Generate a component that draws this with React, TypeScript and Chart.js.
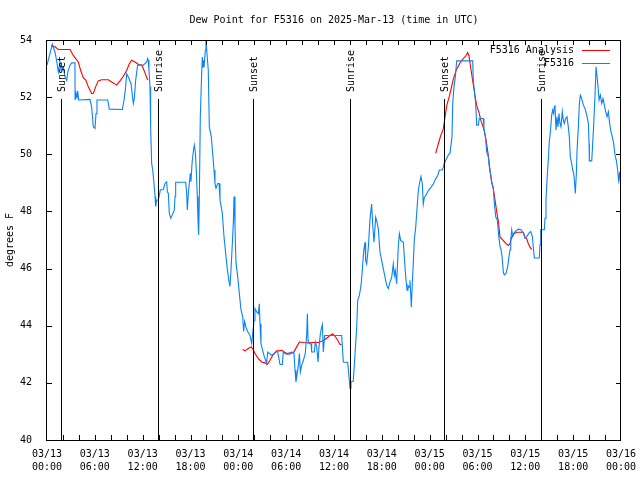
import React, { useEffect, useRef } from "react";
import { Chart, registerables } from "chart.js";

Chart.register(...registerables);

const TITLE = "Dew Point for F5316 on 2025-Mar-13 (time in UTC)";
const Y_LABEL = "degrees F";
const LEGEND_LABELS = ["F5316 Analysis", "F5316"];
const COLORS = ["#ff0000", "#0a82f8"];

// x axis: hours since 2025-03-13 00:00 UTC
const TICK_HOURS = [0, 6, 12, 18, 24, 30, 36, 42, 48, 54, 60, 66, 72];
const TICK_DATES = ["03/13", "03/13", "03/13", "03/13", "03/14", "03/14", "03/14", "03/14", "03/15", "03/15", "03/15", "03/15", "03/16"];
const TICK_TIMES = ["00:00", "06:00", "12:00", "18:00", "00:00", "06:00", "12:00", "18:00", "00:00", "06:00", "12:00", "18:00", "00:00"];

const SUN_HOURS = [1.8, 13.97, 25.8, 38.05, 49.85, 62.0];
const SUN_LABELS = ["Sunset", "Sunrise", "Sunset", "Sunrise", "Sunset", "Sunrise"];

const obsHours = [
  0, 0.67, 1.0, 1.2, 1.42, 1.63, 1.76, 2.05, 2.26, 2.47, 2.6, 2.89, 3.1, 3.51, 3.52, 3.64, 3.76, 3.85, 3.97, 5.39,
  5.6, 5.81, 6.02, 6.15, 6.27, 7.61, 7.82, 9.45, 9.66, 9.82, 10.0, 10.29, 10.54, 10.7, 10.83, 10.95, 11.12, 11.37, 12.08, 12.5,
  12.63, 12.7, 12.79, 12.92, 13.0, 13.13, 13.26, 13.42, 13.55, 13.63, 13.76, 13.96, 14.14, 14.21, 14.59, 14.8, 15.01, 15.1, 15.22, 15.34,
  15.52, 15.72, 15.97, 16.06, 16.14, 17.4, 17.52, 17.6, 17.73, 17.85, 17.98, 18.06, 18.19, 18.35, 18.48, 18.6, 18.73, 18.85, 18.94, 19.02,
  19.1, 19.23, 19.4, 19.48, 19.57, 19.65, 19.73, 19.86, 19.94, 20.07, 20.23, 20.36, 20.61, 20.78, 20.95, 21.07, 21.2, 21.41, 21.58, 21.7,
  21.99, 22.2, 22.41, 22.62, 22.83, 22.95, 23.08, 23.25, 23.37, 23.46, 23.58, 23.71, 23.92, 24.12, 24.33, 24.54, 24.67, 24.79, 24.95, 25.2,
  25.46, 25.68, 25.8, 25.97, 26.09, 26.3, 26.51, 26.63, 26.72, 26.84, 27.05, 27.26, 27.43, 27.55, 27.68, 27.89, 28.1, 28.47, 28.68, 28.93,
  29.1, 29.23, 29.52, 29.64, 29.85, 30.06, 30.48, 30.69, 30.98, 31.11, 31.23, 31.36, 31.53, 31.66, 31.78, 31.95, 32.16, 32.4, 32.58, 32.66,
  32.74, 32.91, 33.12, 33.2, 33.53, 33.66, 33.83, 34.0, 34.12, 34.29, 34.41, 34.54, 34.66, 34.83, 36.96, 37.17, 37.72, 37.88, 38.01, 38.13,
  38.42, 38.64, 38.85, 38.97, 39.18, 39.39, 39.55, 39.73, 39.89, 39.97, 40.1, 40.31, 40.52, 40.72, 40.85, 41.02, 41.23, 41.35, 41.56, 41.77,
  41.98, 42.19, 42.4, 42.61, 42.81, 43.03, 43.24, 43.44, 43.57, 43.69, 43.86, 44.07, 44.2, 44.37, 44.7, 44.82, 45.0, 45.16, 45.28, 45.41,
  45.53, 45.62, 45.7, 45.82, 45.91, 46.08, 46.25, 46.41, 46.58, 46.75, 46.91, 47.08, 47.2, 47.33, 47.5, 47.83, 48.17, 48.46, 48.75, 49.0,
  49.21, 49.59, 49.71, 49.84, 49.92, 50.14, 50.33, 50.55, 50.8, 50.89, 51.05, 51.22, 51.39, 53.4, 53.47, 53.6, 53.77, 53.9, 54.1, 54.22,
  54.73, 54.81, 55.02, 55.15, 55.36, 55.48, 55.66, 55.78, 55.99, 56.11, 56.29, 56.49, 56.67, 56.83, 56.96, 57.08, 57.25, 57.37, 57.58, 57.79,
  57.95, 58.08, 58.17, 58.29, 58.42, 58.58, 58.83, 59.12, 59.46, 59.75, 59.96, 60.17, 60.46, 60.68, 60.88, 61.01, 61.13, 61.75, 61.84, 61.93,
  62.38, 62.47, 62.59, 62.72, 62.88, 63.01, 63.18, 63.3, 63.43, 63.55, 63.63, 63.72, 63.84, 63.97, 64.09, 64.22, 64.34, 64.47, 64.64, 64.76,
  64.88, 65.06, 65.23, 65.39, 65.52, 65.64, 65.81, 65.94, 66.06, 66.15, 66.27, 66.4, 66.49, 66.65, 66.78, 66.9, 67.07, 67.28, 67.49, 67.7,
  67.91, 67.99, 68.03, 68.33, 68.45, 68.58, 68.75, 68.87, 69.0, 69.12, 69.25, 69.41, 69.58, 69.75, 69.91, 70.08, 70.25, 70.41, 70.58, 70.74,
  70.91, 71.08, 71.25, 71.41, 71.58, 71.7, 71.83, 71.91, 72.0,
];
const obsDewPoint = [
  53.12, 53.85, 53.58, 53.29, 52.88, 53.23, 52.94, 53.06, 52.71, 52.59, 52.88, 53.12, 53.2, 53.2, 51.9, 52.13, 51.95, 52.22, 51.9, 51.92,
  51.66, 50.96, 50.9, 51.43, 51.9, 51.9, 51.58, 51.57, 51.9, 52.24, 52.82, 52.65, 52.47, 52.07, 51.78, 51.95, 52.59, 53.12, 53.12, 53.23,
  53.35, 53.29, 52.94, 52.36, 50.96, 49.68, 49.45, 48.98, 48.52, 48.17, 48.4, 48.4, 48.63, 48.75, 48.77, 48.98, 49.04, 48.69, 48.63, 47.94,
  47.76, 47.88, 48.05, 48.52, 49.02, 49.02, 48.63, 48.05, 48.63, 48.98, 49.33, 49.04, 49.68, 50.09, 50.32, 50.09, 49.45, 48.52, 47.7, 47.18,
  48.28, 51.31, 52.82, 53.4, 53.06, 53.29, 53.17, 53.64, 53.97, 53.52, 52.94, 50.96, 50.61, 50.03, 49.45, 48.98, 48.81, 48.98, 48.98, 48.4,
  47.94, 47.12, 46.54, 45.96, 45.55, 45.38, 45.96, 46.89, 47.59, 48.52, 47.47, 46.19, 45.72, 45.14, 44.56, 44.33, 43.8, 44.15, 43.95, 43.78,
  43.66, 43.37, 43.72, 44.19, 44.6, 44.48, 44.42, 44.77, 44.07, 43.37, 43.14, 42.91, 42.79, 42.68, 43.08, 43.03, 42.97, 43.0, 43.08, 43.08,
  42.85, 42.64, 42.64, 43.08, 43.03, 43.0, 43.0, 43.08, 43.03, 42.44, 42.03, 42.27, 42.62, 43.03, 42.38, 42.62, 42.79, 43.03, 43.72, 44.42,
  43.49, 43.37, 43.37, 43.08, 43.08, 43.43, 43.26, 42.73, 43.26, 43.72, 43.9, 44.04, 43.08, 43.66, 43.66, 42.73, 42.71, 42.21, 41.8, 42.03,
  42.06, 43.03, 43.95, 44.89, 45.06, 45.41, 45.93, 46.63, 46.92, 46.28, 46.16, 46.75, 47.74, 48.26, 47.56, 46.92, 47.8, 47.68, 47.39, 46.57,
  46.28, 45.99, 45.7, 45.41, 45.3, 45.53, 45.7, 46.16, 45.76, 45.93, 45.47, 46.81, 47.22, 46.98, 46.92, 46.4, 45.7, 45.24, 45.41, 45.35,
  45.59, 45.12, 44.65, 45.47, 45.99, 47.04, 47.45, 48.09, 48.73, 49.02, 49.22, 48.96, 48.26, 48.49, 48.55, 48.73, 48.84, 48.96, 49.14, 49.25,
  49.45, 49.45, 49.54, 49.71, 49.74, 49.86, 49.97, 50.03, 50.61, 51.78, 52.36, 52.71, 53.27, 53.27, 52.59, 52.24, 51.78, 51.02, 51.02, 51.25,
  51.25, 50.9, 50.55, 50.09, 49.91, 49.57, 49.28, 49.04, 48.81, 48.28, 47.8, 47.7, 47.12, 46.77, 46.66, 46.42, 45.84, 45.78, 45.84, 46.07,
  46.42, 46.66, 47.01, 47.36, 47.12, 47.24, 47.33, 47.38, 47.36, 47.24, 47.06, 47.12, 47.24, 47.3, 47.12, 46.71, 46.37, 46.37, 46.83, 47.36,
  47.36, 47.76, 48.4, 49.1, 49.8, 50.44, 50.9, 51.37, 51.55, 51.43, 51.66, 51.72, 50.85, 51.31, 50.96, 51.43, 51.08, 50.96, 51.49, 51.2,
  51.08, 51.25, 51.31, 50.96, 50.61, 49.91, 49.68, 49.45, 49.33, 49.1, 48.63, 49.33, 50.15, 50.96, 51.78, 52.07, 51.95, 51.72, 51.6, 51.37,
  51.08, 50.38, 49.77, 49.77, 50.38, 51.08, 52.13, 53.06, 52.71, 52.36, 51.9, 52.07, 51.78, 51.95, 51.72, 51.49, 51.31, 51.49, 51.08, 50.79,
  50.61, 50.38, 49.97, 49.8, 49.45, 49.1, 49.39, 48.98, 49.33,
];

// analysis: a null value marks a gap between runs
const anaHours = [
  0.5, 1.0, 1.42, 2.89, 3.3, 3.6, 3.93, 4.22, 4.55, 4.89, 5.18, 5.6, 5.81, 6.1, 6.43, 6.86, 7.69, 8.11, 8.74, 9.16,
  9.58, 10.0, 10.33, 10.62, 11.04, 11.45, 11.88, 12.08, 12.29, 12.63,
  18.0,
  24.55, 24.84, 25.25, 25.59, 25.8, 26.09, 26.51, 26.93, 27.35, 27.64, 27.97, 28.39, 28.81, 29.14, 29.44, 29.77, 30.06, 30.48, 30.9,
  31.32, 31.66, 32.16, 32.78, 33.41, 34.03, 34.45, 34.75, 35.16, 35.5, 35.84, 36.13, 36.42, 36.76, 36.96,
  43.0,
  48.75, 49.08, 49.38, 49.71, 49.92, 50.14, 50.43, 50.68, 50.97, 51.3, 51.6, 51.89, 52.22, 52.52, 52.77, 52.93, 53.15, 53.4, 53.69, 53.9,
  54.19, 54.44, 54.73, 54.94, 55.15, 55.36, 55.57, 55.78, 55.99, 56.21, 56.42, 56.63, 56.76, 56.83, 57.25, 57.58, 57.87, 58.08, 58.29, 58.58,
  58.91, 59.33, 59.75, 59.96, 60.17, 60.38, 60.59, 60.8,
];
const anaDewPoint = [
  53.81, 53.76, 53.67, 53.67, 53.46, 53.35, 53.23, 52.94, 52.68, 52.59, 52.36, 52.13, 52.13, 52.36, 52.57, 52.61, 52.61, 52.53, 52.42, 52.57,
  52.73, 52.94, 53.17, 53.29, 53.23, 53.15, 53.12, 53.0, 52.85, 52.6,
  null,
  43.17, 43.12, 43.2, 43.26, 43.2, 43.03, 42.85, 42.73, 42.7, 42.64, 42.79, 43.0, 43.12, 43.12, 43.14, 43.08, 43.03, 43.05, 43.05,
  43.26, 43.43, 43.41, 43.4, 43.41, 43.41, 43.46, 43.49, 43.58, 43.66, 43.72, 43.63, 43.51, 43.34, 43.34,
  null,
  50.03, 50.36, 50.65, 50.88, 51.29, 51.7, 51.99, 52.28, 52.63, 52.92, 53.09, 53.24, 53.35, 53.44, 53.56, 53.44, 53.03, 52.57, 52.04, 51.7,
  51.46, 51.17, 50.94, 50.71, 50.36, 49.95, 49.43, 49.02, 48.79, 48.38, 47.97, 47.62, 47.27, 47.1, 46.98, 46.87, 46.81, 46.87, 47.1, 47.22,
  47.27, 47.27, 47.27, 47.1, 47.04, 46.87, 46.75, 46.67,
];

const FONT = "DejaVu Sans Mono";

const decorPlugin = {
  id: "gnuplotDecor",
  afterDatasetsDraw(chart: any) {
    const { ctx, chartArea, scales } = chart;
    const x = scales.x;
    const y = scales.y;
    const L = chartArea.left, R = chartArea.right, T = chartArea.top, B = chartArea.bottom;
    ctx.save();
    ctx.strokeStyle = "#000";
    ctx.lineWidth = 1;
    // frame
    ctx.strokeRect(Math.round(L) - 0.5, Math.round(T) + 0.5, Math.round(R - L), Math.round(B - T));
    // ticks, inward on all four sides
    ctx.beginPath();
    for (let h = 2; h < 72; h += 2) {
      const px = Math.round(x.getPixelForValue(h)) + 0.5;
      ctx.moveTo(px, B);
      ctx.lineTo(px, B - 5);
      ctx.moveTo(px, T);
      ctx.lineTo(px, T + 5);
    }
    for (let v = 42; v < 54; v += 2) {
      const py = Math.round(y.getPixelForValue(v)) + 0.5;
      ctx.moveTo(L, py);
      ctx.lineTo(L + 5, py);
      ctx.moveTo(R, py);
      ctx.lineTo(R - 5, py);
    }
    ctx.stroke();
    // sunrise / sunset markers
    ctx.font = `10px "${FONT}"`;
    ctx.fillStyle = "#000";
    SUN_HOURS.forEach((h, i) => {
      const px = Math.round(x.getPixelForValue(h)) + 0.5;
      ctx.beginPath();
      ctx.moveTo(px, 99);
      ctx.lineTo(px, B);
      ctx.stroke();
      ctx.save();
      ctx.translate(px + 1, 92);
      ctx.rotate(-Math.PI / 2);
      ctx.textAlign = "left";
      ctx.textBaseline = "middle";
      ctx.fillText(SUN_LABELS[i], 0, 0);
      ctx.restore();
    });
    // title
    ctx.textAlign = "center";
    ctx.textBaseline = "middle";
    ctx.fillText(TITLE, (L + R) / 2, 20);
    // y label
    ctx.save();
    ctx.translate(10, 240);
    ctx.rotate(-Math.PI / 2);
    ctx.fillText(Y_LABEL, 0, 0);
    ctx.restore();
    // legend
    ctx.textAlign = "right";
    const rows = [50, 63];
    LEGEND_LABELS.forEach((lab, i) => {
      ctx.fillStyle = "#000";
      ctx.fillText(lab, 574, rows[i]);
      ctx.strokeStyle = COLORS[i];
      ctx.beginPath();
      ctx.moveTo(582, rows[i] + 0.5);
      ctx.lineTo(610, rows[i] + 0.5);
      ctx.stroke();
    });
    ctx.restore();
  },
};

export default function App() {
  const ref = useRef<HTMLCanvasElement | null>(null);
  useEffect(() => {
    if (!ref.current) return;
    const obs = obsHours.map((h, i) => ({ x: h, y: obsDewPoint[i] }));
    const ana = anaHours.map((h, i) => ({ x: h, y: anaDewPoint[i] }));
    const chart = new Chart(ref.current, {
      type: "line",
      data: {
        datasets: [
          {
            label: LEGEND_LABELS[1],
            data: obs,
            borderColor: COLORS[1],
            borderWidth: 1.1,
            pointRadius: 0,
            tension: 0,
          },
          {
            label: LEGEND_LABELS[0],
            data: ana as any,
            borderColor: COLORS[0],
            borderWidth: 1.1,
            pointRadius: 0,
            tension: 0,
            spanGaps: false,
          },
        ],
      },
      options: {
        animation: false,
        responsive: false,
        devicePixelRatio: 1,
        layout: { padding: { top: 40, right: 19, left: 0, bottom: 0 } },
        plugins: { legend: { display: false }, title: { display: false }, tooltip: { enabled: false } },
        scales: {
          x: {
            type: "linear",
            min: 0,
            max: 72,
            afterBuildTicks: (s: any) => {
              s.ticks = TICK_HOURS.map((v) => ({ value: v }));
            },
            afterFit: (s: any) => {
              s.height = 40;
              s.paddingLeft = 0;
              s.paddingRight = 0;
            },
            ticks: {
              autoSkip: false,
              maxRotation: 0,
              padding: 0,
              color: "#000",
              font: { family: FONT, size: 10, lineHeight: 1.3 },
              callback: (v: any) => {
                const i = TICK_HOURS.indexOf(Number(v));
                return i >= 0 ? [TICK_DATES[i], TICK_TIMES[i]] : "";
              },
            },
            grid: { display: false },
            border: { display: false },
          },
          y: {
            type: "linear",
            min: 40,
            max: 54,
            afterFit: (s: any) => {
              s.width = 47;
              s.paddingTop = 0;
              s.paddingBottom = 0;
            },
            ticks: {
              stepSize: 2,
              padding: 7,
              color: "#000",
              font: { family: FONT, size: 10 },
            },
            grid: { display: false },
            border: { display: false },
          },
        },
      },
      plugins: [decorPlugin],
    });
    return () => chart.destroy();
  }, []);
  return (
    <canvas
      ref={ref}
      width={640}
      height={480}
      style={{ position: "absolute", left: 0, top: 0, width: 640, height: 480, background: "#fff" }}
    />
  );
}
